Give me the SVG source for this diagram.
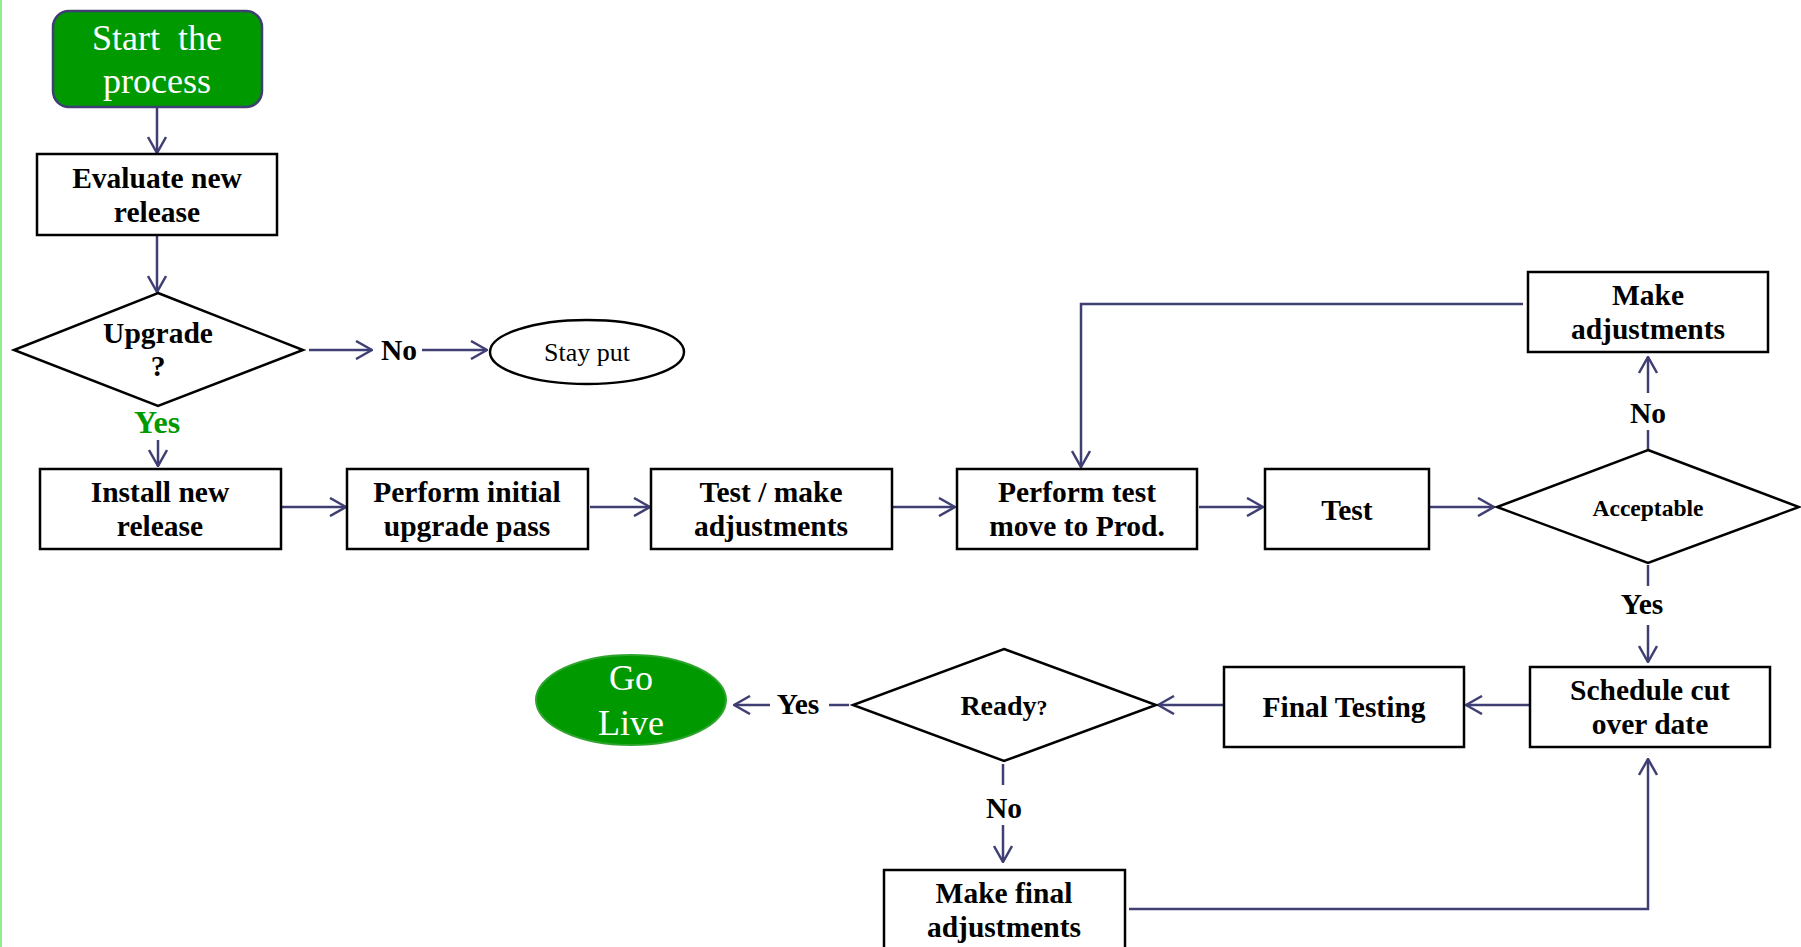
<svg xmlns="http://www.w3.org/2000/svg" width="1801" height="947" viewBox="0 0 1801 947">
<style>
.box{fill:#fff;stroke:#000;stroke-width:2.5}
.dia{fill:#fff;stroke:#000;stroke-width:2.5}
.t{font-family:"Liberation Serif","Times New Roman",serif;font-weight:bold;font-size:29.5px;fill:#000;text-anchor:middle}
.w{font-family:"Liberation Serif","Times New Roman",serif;font-size:36px;fill:#fff;text-anchor:middle;white-space:pre}
.c{fill:none;stroke:#3f3f74;stroke-width:2.5}
</style>
<defs>
<marker id="ah" viewBox="0 0 18 20" refX="17" refY="10" markerWidth="18" markerHeight="20" markerUnits="userSpaceOnUse" orient="auto">
<polyline points="1,1 17,10 1,19" fill="none" stroke="#3f3f74" stroke-width="2.5"/>
</marker>
</defs>
<rect width="1801" height="947" fill="#fff"/>
<line x1="1" y1="0" x2="1" y2="947" stroke="#90ee90" stroke-width="2"/>

<g id="connectors">
<path class="c" d="M157,107 V153" marker-end="url(#ah)"/>
<path class="c" d="M157,235 V292" marker-end="url(#ah)"/>
<path class="c" d="M309,350 H372" marker-end="url(#ah)"/>
<path class="c" d="M422,350 H487" marker-end="url(#ah)"/>
<path class="c" d="M158,440 V466" marker-end="url(#ah)"/>
<path class="c" d="M282,507 H346" marker-end="url(#ah)"/>
<path class="c" d="M590,507 H650" marker-end="url(#ah)"/>
<path class="c" d="M893,507 H955" marker-end="url(#ah)"/>
<path class="c" d="M1199,507 H1263" marker-end="url(#ah)"/>
<path class="c" d="M1430,507 H1494" marker-end="url(#ah)"/>
<path class="c" d="M1648,450 V430"/>
<path class="c" d="M1648,393 V357" marker-end="url(#ah)"/>
<path class="c" d="M1523,304 H1081 V467" marker-end="url(#ah)"/>
<path class="c" d="M1648,565 V586"/>
<path class="c" d="M1648,625 V662" marker-end="url(#ah)"/>
<path class="c" d="M1530,705 H1466" marker-end="url(#ah)"/>
<path class="c" d="M1224,705 H1158" marker-end="url(#ah)"/>
<path class="c" d="M849,705 H829"/>
<path class="c" d="M770,705 H734" marker-end="url(#ah)"/>
<path class="c" d="M1003,764 V785"/>
<path class="c" d="M1003,825 V862" marker-end="url(#ah)"/>
<path class="c" d="M1129,909 H1648 V759" marker-end="url(#ah)"/>
<text class="t" x="399" y="360">No</text>
<text class="t" x="157" y="433" style="fill:#009900;font-size:32px">Yes</text>
<text class="t" x="1648" y="423">No</text>
<text class="t" x="1642" y="614">Yes</text>
<text class="t" x="798" y="714">Yes</text>
<text class="t" x="1004" y="818">No</text>
</g>

<g id="start">
<rect x="53" y="11" width="209" height="96" rx="16" fill="#009900" stroke="#3f3f74" stroke-width="2.5"/>
<text class="w" x="157" y="50" xml:space="preserve">Start  the</text>
<text class="w" x="157" y="93">process</text>
</g>
<g id="evaluate">
<rect class="box" x="37" y="154" width="240" height="81"/>
<text class="t" x="157" y="188">Evaluate new</text>
<text class="t" x="157" y="222">release</text>
</g>
<g id="upgrade">
<polygon class="dia" points="158,293 303,350 158,406 14,350"/>
<text class="t" x="158" y="343">Upgrade</text>
<text class="t" x="158" y="376">?</text>
</g>
<g id="stayput">
<ellipse cx="587" cy="352" rx="97" ry="32" fill="#fff" stroke="#000" stroke-width="2.5"/>
<text x="587" y="361" style="font-family:'Liberation Serif','Times New Roman',serif;font-size:26px;text-anchor:middle">Stay put</text>
</g>
<g id="install">
<rect class="box" x="40" y="469" width="241" height="80"/>
<text class="t" x="160" y="502">Install new</text>
<text class="t" x="160" y="536">release</text>
</g>
<g id="initial">
<rect class="box" x="347" y="469" width="241" height="80"/>
<text class="t" x="467" y="502">Perform initial</text>
<text class="t" x="467" y="536">upgrade pass</text>
</g>
<g id="testmake">
<rect class="box" x="651" y="469" width="241" height="80"/>
<text class="t" x="771" y="502">Test / make</text>
<text class="t" x="771" y="536">adjustments</text>
</g>
<g id="performtest">
<rect class="box" x="957" y="469" width="240" height="80"/>
<text class="t" x="1077" y="502">Perform test</text>
<text class="t" x="1077" y="536">move to Prod.</text>
</g>
<g id="test">
<rect class="box" x="1265" y="469" width="164" height="80"/>
<text class="t" x="1347" y="520">Test</text>
</g>
<g id="acceptable">
<polygon class="dia" points="1648,450 1799,507 1648,563 1497,507"/>
<text class="t" x="1648" y="516" style="font-size:23.5px">Acceptable</text>
</g>
<g id="makeadj">
<rect class="box" x="1528" y="272" width="240" height="80"/>
<text class="t" x="1648" y="305">Make</text>
<text class="t" x="1648" y="339">adjustments</text>
</g>
<g id="schedule">
<rect class="box" x="1530" y="667" width="240" height="80"/>
<text class="t" x="1650" y="700">Schedule cut</text>
<text class="t" x="1650" y="734">over date</text>
</g>
<g id="finaltesting">
<rect class="box" x="1224" y="667" width="240" height="80"/>
<text class="t" x="1344" y="717">Final Testing</text>
</g>
<g id="ready">
<polygon class="dia" points="1004,649 1156,705 1004,761 853,705"/>
<text class="t" x="1004" y="715" style="font-size:28px">Ready<tspan style="font-size:22px">?</tspan></text>
</g>
<g id="golive">
<ellipse cx="631" cy="700" rx="95" ry="45" fill="#009900" stroke="#2fa52f" stroke-width="2"/>
<text class="w" x="631" y="690">Go</text>
<text class="w" x="631" y="735">Live</text>
</g>
<g id="makefinal">
<rect class="box" x="884" y="870" width="241" height="82"/>
<text class="t" x="1004" y="903">Make final</text>
<text class="t" x="1004" y="937">adjustments</text>
</g>
</svg>
